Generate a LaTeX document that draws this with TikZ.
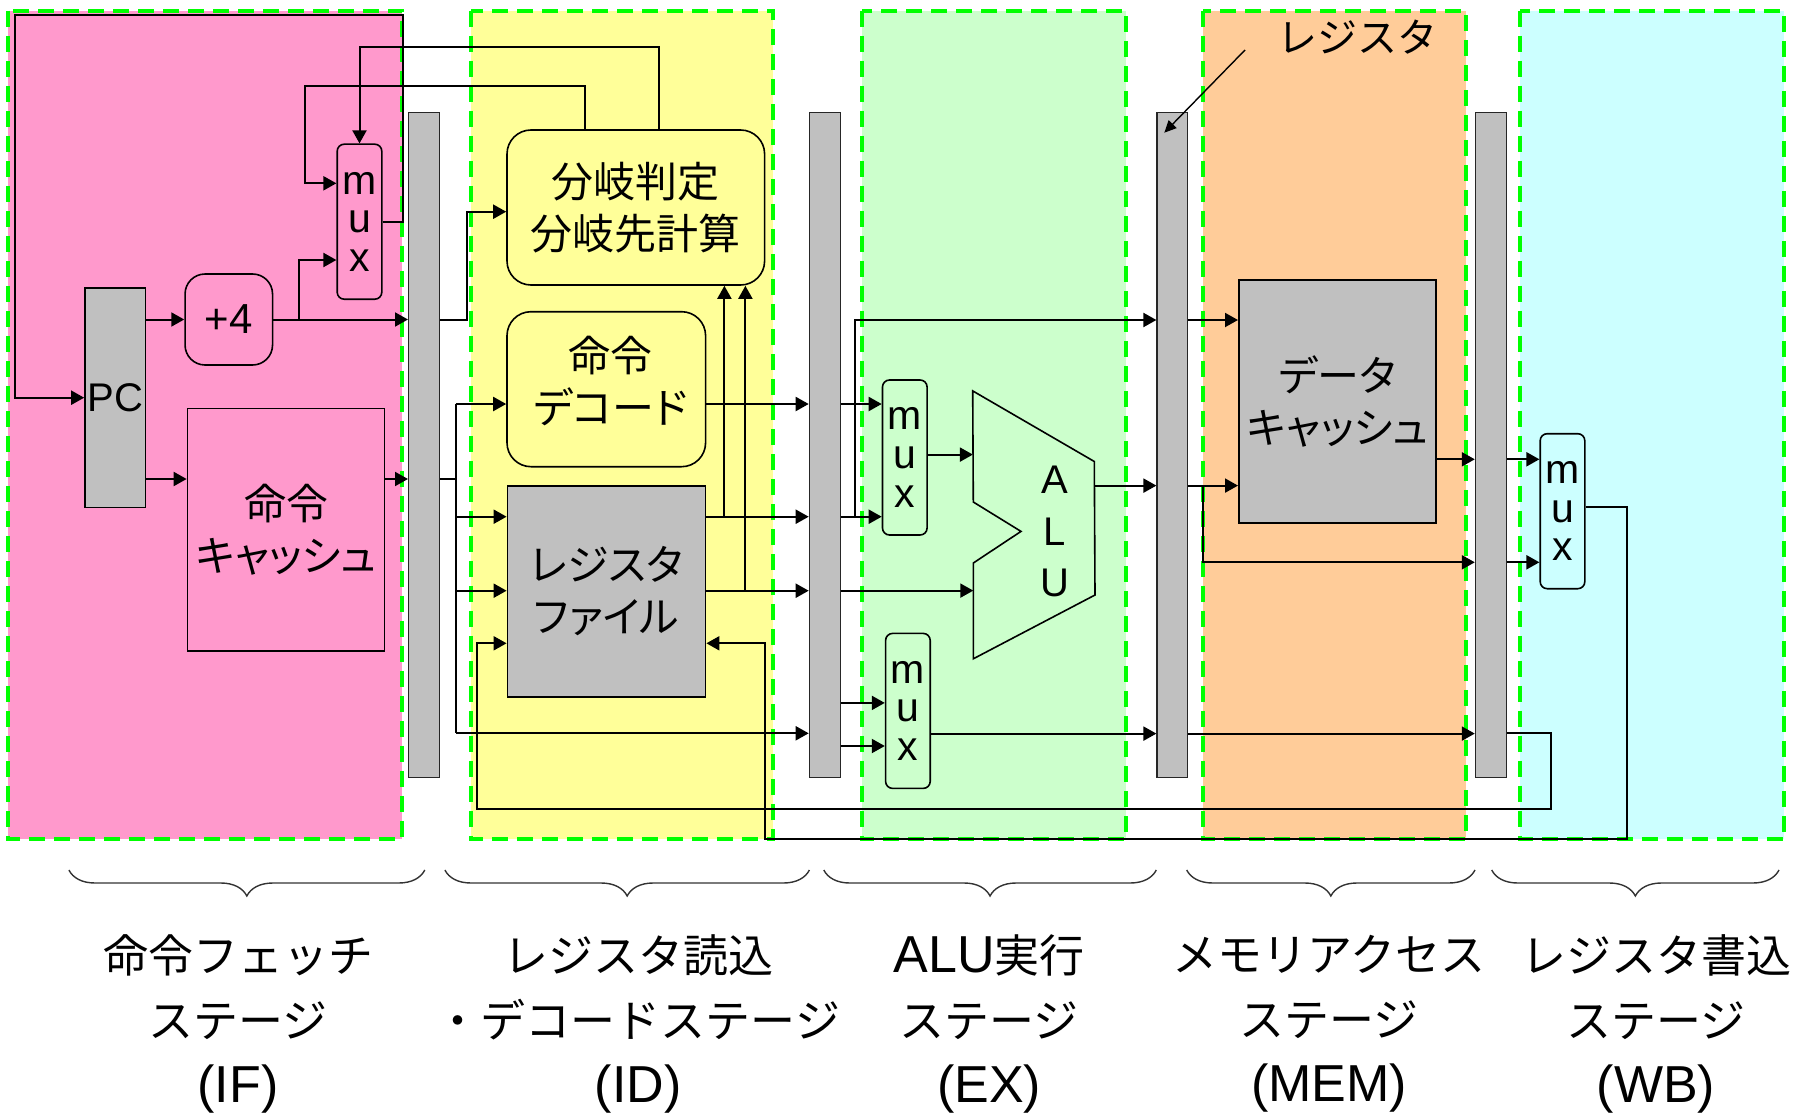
\documentclass[tikz,border=0pt]{standalone}
\usepackage{fontspec}
\setmainfont{Liberation Sans}
\newfontfamily\jp{Noto Sans CJK JP}
\newfontfamily\jpp[RawFeature=+palt]{Noto Sans CJK JP}
\usetikzlibrary{arrows.meta,decorations.pathreplacing}
\definecolor{ifc}{HTML}{FF99CC}
\definecolor{idc}{HTML}{FFFF99}
\definecolor{exc}{HTML}{CCFFCC}
\definecolor{memc}{HTML}{FFCC99}
\definecolor{wbc}{HTML}{CCFFFF}
\definecolor{regc}{HTML}{C0C0C0}
\definecolor{dashc}{HTML}{00FF00}
\newcommand\jtx[1]{{\jp\fontsize{22.5}{32.5}\selectfont #1}}
\begin{document}
\begin{tikzpicture}[x=0.5pt,y=-0.5pt,
  stagebox/.style={draw=dashc, line width=2pt, dash pattern=on 8pt off 4.5pt},
  blk/.style={draw=black, line width=0.8pt, inner sep=0pt, align=center},
  preg/.style={blk, draw=black!85, line width=0.6pt, fill=regc, minimum width=15.4pt, minimum height=332.5pt},
  muxbox/.style={blk, rounded corners=3.5pt, minimum width=22.3pt, minimum height=77.5pt, font=\fontsize{20.5}{19.3}\selectfont},
  jtext/.style={font=\jpp\fontsize{21}{26}\selectfont, align=center},
  arr/.style={line width=1pt, -{Triangle[length=6.5pt,width=7pt]}},
  wire/.style={line width=1pt},
  stagebrace/.style={decorate, decoration={brace, mirror, amplitude=13pt}, line width=0.7pt, draw=black!80},
  stagelabel/.style={font=\fontsize{26}{32.5}\selectfont, align=center, inner sep=0pt}
]
\useasboundingbox (0,0) rectangle (1799,1113);

% ---------- stage regions ----------
\fill[ifc]  (7.7,10.7) rectangle (402,839.3);
\fill[idc]  (471,10.7) rectangle (773.4,839.3);
\fill[exc]  (862,10.7) rectangle (1126,839.3);
\fill[memc] (1202.6,10.7) rectangle (1465.8,839.3);
\fill[wbc]  (1520.4,10.7) rectangle (1784.2,839.3);
\draw[stagebox] (7.7,10.7) rectangle (402,839.3);
\draw[stagebox] (471,10.7) rectangle (773.4,839.3);
\draw[stagebox] (862,10.7) rectangle (1126,839.3);
\draw[stagebox] (1202.6,10.7) rectangle (1465.8,839.3);
\draw[stagebox] (1520.4,10.7) rectangle (1784.2,839.3);

% ---------- blocks ----------
\node[blk, fill=regc, minimum width=30.2pt, minimum height=109.65pt, font=\fontsize{20}{24}\selectfont] (pc) at (115.2,397.7) {PC};
\node[blk, fill=ifc, rounded corners=10pt, minimum width=43.75pt, minimum height=45.5pt, font=\fontsize{21}{24}\selectfont] (plus4) at (228.8,319.5) {+4};
\node[muxbox, fill=ifc] (muxA) at (359.5,221.7) {m\\u\\x};
\node[blk, fill=ifc, minimum width=98.55pt, minimum height=121.2pt, jtext] (ic) at (286,529.5) {命令\\キャッシュ};

\node[preg] (ifid) at (424,444.8) {};
\node[preg] (idex) at (824.7,444.8) {};
\node[preg] (exmem) at (1172.4,444.8) {};
\node[preg] (memwb) at (1490.8,444.8) {};

\node[blk, fill=idc, rounded corners=12pt, minimum width=128.8pt, minimum height=77.5pt, jtext] (branch) at (635.8,207.5) {分岐判定\\分岐先計算};
\node[blk, fill=idc, rounded corners=12pt, minimum width=99.3pt, minimum height=77.5pt,
  label={[jtext, yshift=4pt, xshift=2pt]center:命令\\デコード}] (decode) at (606.3,389.2) {};
\node[blk, fill=regc, minimum width=99.1pt, minimum height=105.5pt, jtext] (regfile) at (606.5,591.2) {レジスタ\\ファイル};

\node[muxbox, fill=exc] (muxB) at (904.8,457.5) {m\\u\\x};
\node[muxbox, fill=exc] (muxC) at (907.9,710.9) {m\\u\\x};
\draw[fill=exc, line width=0.8pt] (972.7,390.9) -- (1094.3,461.5) -- (1095,595) -- (973.3,658.8)
  -- (973.3,563) -- (1021,531.4) -- (973.3,502) -- cycle;
\node[inner sep=0pt, align=center, font=\fontsize{20}{25.75}\selectfont] (alu) at (1055,531.7) {A\\L\\U};
\coordinate (aluin1) at (972.9,454.6);
\coordinate (aluin2) at (973.3,590.6);
\coordinate (aluout) at (1095,485.6);

\node[blk, fill=regc, minimum width=98.7pt, minimum height=121.35pt, jtext] (dcache) at (1337.5,401.4) {データ\\キャッシュ};
\node[muxbox, fill=wbc] (muxD) at (1562.5,511.2) {m\\u\\x};

\node[font=\jp\fontsize{20}{24}\selectfont, inner sep=0pt] (reglabel) at (1357,37) {レジスタ};
\coordinate (regptr) at (1245,50);
\coordinate (regtip) at (1164.3,132.7);

% ---------- IF connectors ----------
\draw[arr] (pc.east |- plus4.west) -- (plus4.west);
\draw[arr] (plus4.east) -- (plus4.east -| ifid.west);
\draw[arr] (plus4.east -| 298.5,0) |- (muxA.west |- 0,260);
\coordinate (fbR) at (402.6,15);
\coordinate (fbL) at (15.3,15);
\draw[arr] (muxA.east) -| (fbR) -- (fbL) |- (pc.west);
\draw[arr] (branch.north -| 658.6,0) |- (muxA.north |- 0,46.7) -- (muxA.north);
\draw[arr] (branch.north -| 584.7,0) |- (305,86) |- (muxA.west |- 0,183.3);
\draw[arr] (pc.east |- 0,479) -- (ic.west |- 0,479);
\draw[arr] (ic.east |- 0,479) -- (ifid.west |- 0,479);

% ---------- ID connectors ----------
\coordinate (brin) at (467,319.5);
\draw[arr] (ifid.east |- plus4.east) -- (brin) |- (branch.west |- 0,211.7);
\draw[wire] (ifid.east |- 0,479) -- (455.7,479);
\draw[wire] (455.7,404) -- (455.7,733.3);
\draw[arr] (455.7,404) -- (decode.west |- 0,404);
\draw[arr] (455.7,516.7) -- (regfile.west |- 0,516.7);
\draw[arr] (455.7,590.7) -- (regfile.west |- 0,590.7);
\draw[arr] (455.7,733.3) -- (idex.west |- 0,733.3);
\draw[arr] (decode.east |- 0,404) -- (idex.west |- 0,404);
\draw[arr] (regfile.east |- 0,516.7) -- (idex.west |- 0,516.7);
\draw[arr] (regfile.east |- 0,590.7) -- (idex.west |- 0,590.7);
\draw[arr] (724.4,516.7) -- (branch.south -| 724.4,0);
\draw[arr] (745.4,590.7) -- (branch.south -| 745.4,0);
\draw[arr] (muxD.east |- 0,507.3) -| (1626.5,839.3) -| (764.6,643.3) -- (regfile.east |- 0,643.3);
\draw[arr] (memwb.east |- 0,733.3) -| (1551,809.3) -| (476.8,643.3) -- (regfile.west |- 0,643.3);

% ---------- EX connectors ----------
\draw[arr] (idex.east |- 0,404) -- (muxB.west |- 0,404);
\draw[arr] (idex.east |- 0,516.7) -- (muxB.west |- 0,516.7);
\draw[arr] (854.5,516.7) |- (exmem.west |- 0,320);
\draw[arr] (muxB.east |- aluin1) -- (aluin1);
\draw[arr] (idex.east |- aluin2) -- (aluin2);
\draw[arr] (aluout) -- (exmem.west |- aluout);
\draw[arr] (idex.east |- 0,702.9) -- (muxC.west |- 0,702.9);
\draw[arr] (idex.east |- 0,746) -- (muxC.west |- 0,746);
\draw[arr] (muxC.east |- 0,733.6) -- (exmem.west |- 0,733.6);

% ---------- MEM connectors ----------
\draw[arr] (exmem.east |- 0,320) -- (dcache.west |- 0,320);
\draw[arr] (exmem.east |- aluout) -- (dcache.west |- aluout);
\draw[arr] (1203,485.6) |- (memwb.west |- 0,562.3);
\draw[arr] (dcache.east |- 0,459.3) -- (memwb.west |- 0,459.3);
\draw[arr] (exmem.east |- 0,733.6) -- (memwb.west |- 0,733.6);

% ---------- WB connectors ----------
\draw[arr] (memwb.east |- 0,459.3) -- (muxD.west |- 0,459.3);
\draw[arr] (memwb.east |- 0,562.3) -- (muxD.west |- 0,562.3);

% ---------- annotation ----------
\draw[line width=0.7pt, -{Triangle[length=6pt,width=5.5pt]}] (regptr) -- (regtip);

% ---------- braces ----------
\draw[stagebrace] (68.9,870) -- (424.8,870);
\draw[stagebrace] (444.9,870) -- (809.4,870);
\draw[stagebrace] (823.8,870) -- (1156.3,870);
\draw[stagebrace] (1186.7,870) -- (1475,870);
\draw[stagebrace] (1491.7,870) -- (1779,870);

% ---------- stage labels ----------
\node[stagelabel] (lif)  at (238,1024)  {\jtx{命令フェッチ}\\\jtx{ステージ}\\(IF)};
\node[stagelabel] (lid)  at (638,1024)  {\jtx{レジスタ読込}\\\jtx{・デコードステージ}\\(ID)};
\node[stagelabel] (lex)  at (989,1024)  {ALU\jtx{実行}\\\jtx{ステージ}\\(EX)};
\node[stagelabel] (lmem) at (1329,1024) {\jtx{メモリアクセス}\\\jtx{ステージ}\\(MEM)};
\node[stagelabel] (lwb)  at (1656,1024) {\jtx{レジスタ書込}\\\jtx{ステージ}\\(WB)};
\end{tikzpicture}
\end{document}
